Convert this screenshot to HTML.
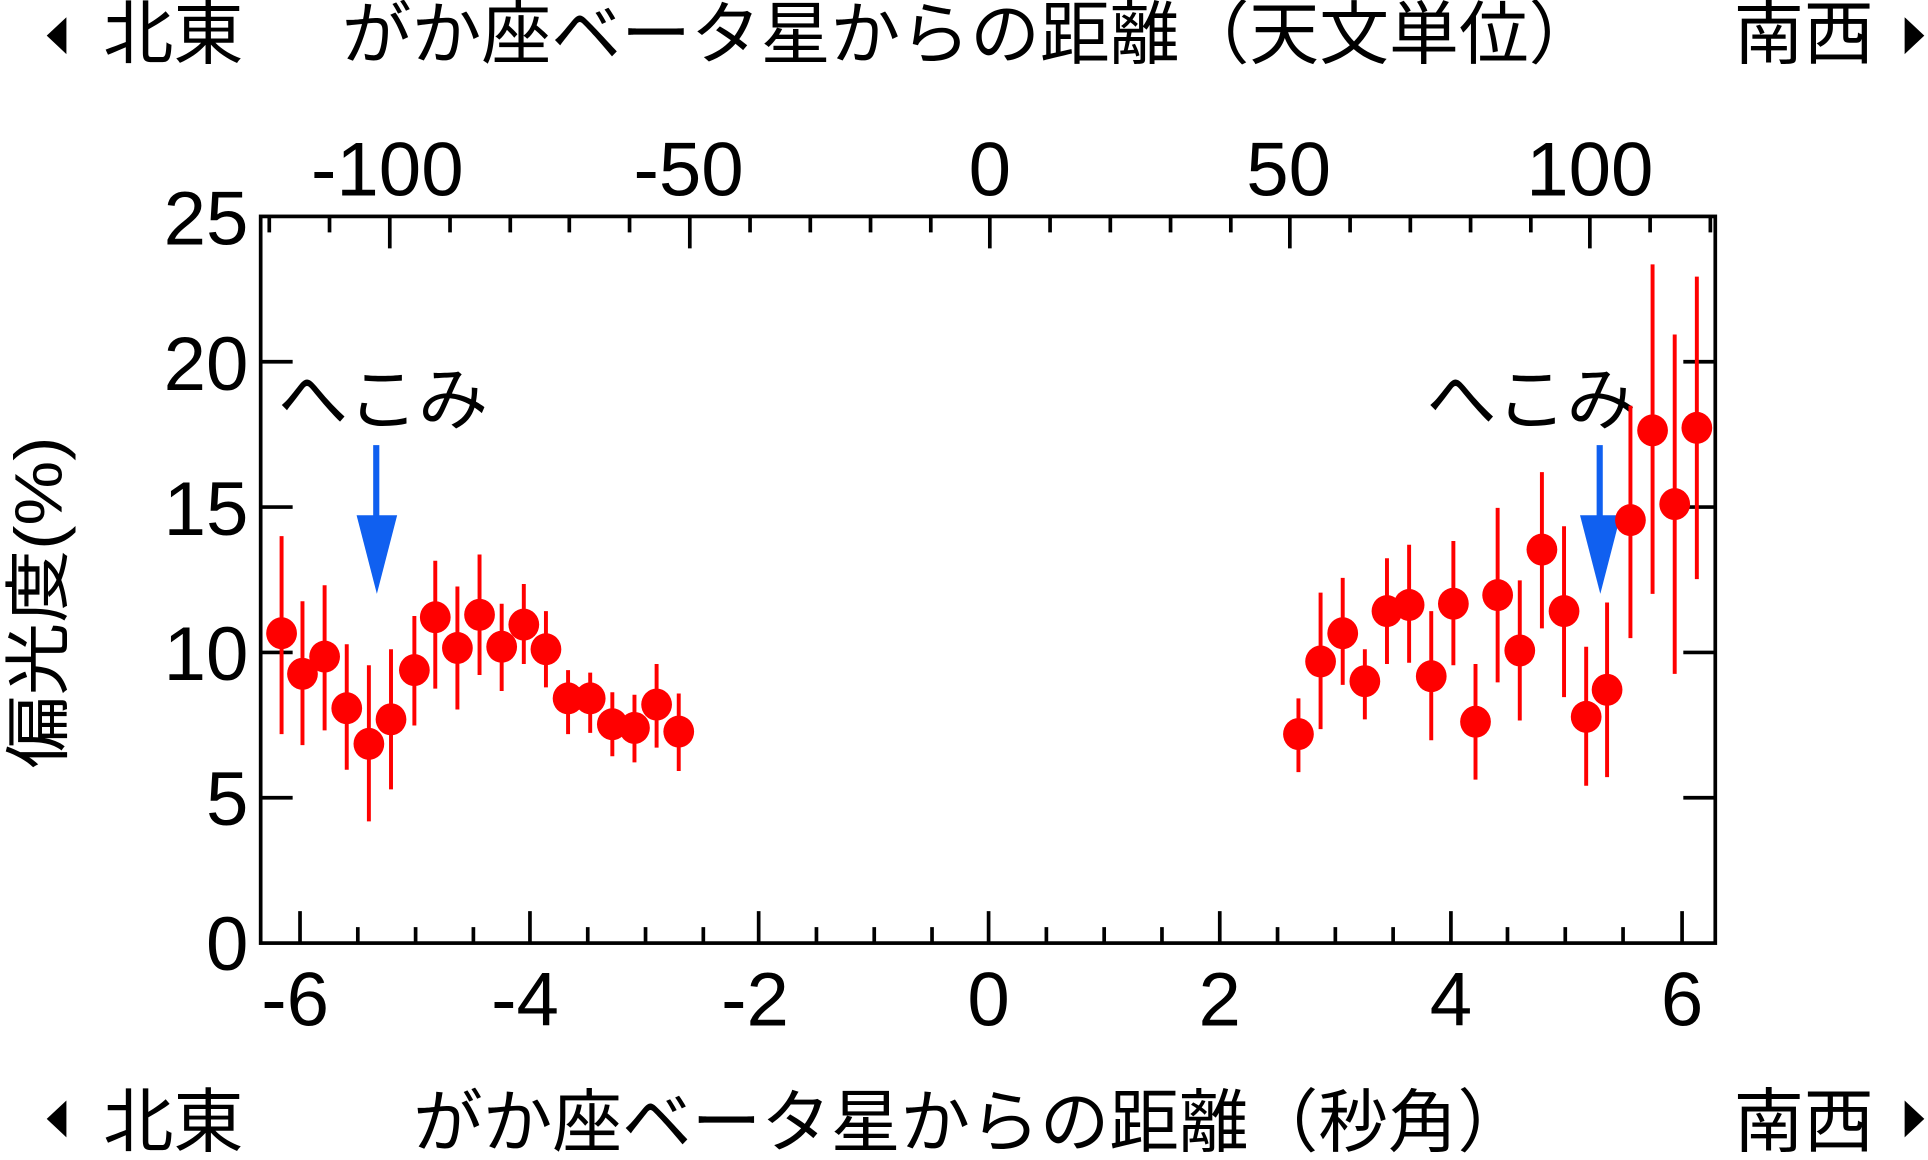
<!DOCTYPE html>
<html><head><meta charset="utf-8"><style>
html,body{margin:0;padding:0;background:#fff;}
svg{display:block;}
text{font-family:"Liberation Sans","Noto Sans CJK JP",sans-serif;fill:#000;}
</style></head><body>
<svg width="1928" height="1160" viewBox="0 0 1568 943.4" preserveAspectRatio="none" xmlns="http://www.w3.org/2000/svg">
<rect width="1568" height="943.4" fill="#fff"/>
<!-- titles -->
<polygon points="38,29 54,14 54,44" fill="#000"/>
<text x="84" y="47" font-size="57" font-family="Noto Sans CJK JP, sans-serif">北東</text>
<text x="278" y="47" font-size="56" textLength="1022" lengthAdjust="spacingAndGlyphs" font-family="Noto Sans CJK JP, sans-serif">がか座ベータ星からの距離（天文単位）</text>
<text x="1410" y="47" font-size="57" font-family="Noto Sans CJK JP, sans-serif">南西</text>
<polygon points="1565,29 1549,14 1549,44" fill="#000"/>

<polygon points="38,910 54,895 54,925" fill="#000"/>
<text x="84" y="932" font-size="57" font-family="Noto Sans CJK JP, sans-serif">北東</text>
<text x="336" y="932" font-size="56" textLength="906" lengthAdjust="spacingAndGlyphs" font-family="Noto Sans CJK JP, sans-serif">がか座ベータ星からの距離（秒角）</text>
<text x="1410" y="932" font-size="57" font-family="Noto Sans CJK JP, sans-serif">南西</text>
<polygon points="1565,910 1549,895 1549,925" fill="#000"/>

<!-- y label -->
<text transform="translate(50,490) rotate(-90)" text-anchor="middle" font-size="54" textLength="270" lengthAdjust="spacingAndGlyphs" font-family="Noto Sans CJK JP, sans-serif">偏光度(%)</text>

<!-- axes box -->
<rect x="212" y="176" width="1183" height="591" fill="none" stroke="#000" stroke-width="3"/>
<g stroke="#000" stroke-width="3">
<line x1="212" y1="648.8" x2="238" y2="648.8"/><line x1="1395" y1="648.8" x2="1369" y2="648.8"/>
<line x1="212" y1="530.6" x2="238" y2="530.6"/><line x1="1395" y1="530.6" x2="1369" y2="530.6"/>
<line x1="212" y1="412.4" x2="238" y2="412.4"/><line x1="1395" y1="412.4" x2="1369" y2="412.4"/>
<line x1="212" y1="294.2" x2="238" y2="294.2"/><line x1="1395" y1="294.2" x2="1369" y2="294.2"/>
<line x1="244" y1="767" x2="244" y2="741"/><line x1="291" y1="767" x2="291" y2="754"/>
<line x1="338" y1="767" x2="338" y2="754"/><line x1="385" y1="767" x2="385" y2="754"/>
<line x1="431" y1="767" x2="431" y2="741"/><line x1="478" y1="767" x2="478" y2="754"/>
<line x1="525" y1="767" x2="525" y2="754"/><line x1="572" y1="767" x2="572" y2="754"/>
<line x1="617" y1="767" x2="617" y2="741"/><line x1="664" y1="767" x2="664" y2="754"/>
<line x1="711" y1="767" x2="711" y2="754"/><line x1="758" y1="767" x2="758" y2="754"/>
<line x1="804" y1="767" x2="804" y2="741"/><line x1="851" y1="767" x2="851" y2="754"/>
<line x1="898" y1="767" x2="898" y2="754"/><line x1="945" y1="767" x2="945" y2="754"/>
<line x1="992" y1="767" x2="992" y2="741"/><line x1="1039" y1="767" x2="1039" y2="754"/>
<line x1="1086" y1="767" x2="1086" y2="754"/><line x1="1133" y1="767" x2="1133" y2="754"/>
<line x1="1180" y1="767" x2="1180" y2="741"/><line x1="1226" y1="767" x2="1226" y2="754"/>
<line x1="1273" y1="767" x2="1273" y2="754"/><line x1="1320" y1="767" x2="1320" y2="754"/>
<line x1="1368" y1="767" x2="1368" y2="741"/>
<line x1="219" y1="176" x2="219" y2="189"/><line x1="268" y1="176" x2="268" y2="189"/>
<line x1="317" y1="176" x2="317" y2="202"/><line x1="366" y1="176" x2="366" y2="189"/>
<line x1="415" y1="176" x2="415" y2="189"/><line x1="463" y1="176" x2="463" y2="189"/>
<line x1="512" y1="176" x2="512" y2="189"/><line x1="561" y1="176" x2="561" y2="202"/>
<line x1="610" y1="176" x2="610" y2="189"/><line x1="659" y1="176" x2="659" y2="189"/>
<line x1="708" y1="176" x2="708" y2="189"/><line x1="757" y1="176" x2="757" y2="189"/>
<line x1="805" y1="176" x2="805" y2="202"/><line x1="854" y1="176" x2="854" y2="189"/>
<line x1="903" y1="176" x2="903" y2="189"/><line x1="952" y1="176" x2="952" y2="189"/>
<line x1="1001" y1="176" x2="1001" y2="189"/><line x1="1049" y1="176" x2="1049" y2="202"/>
<line x1="1098" y1="176" x2="1098" y2="189"/><line x1="1147" y1="176" x2="1147" y2="189"/>
<line x1="1196" y1="176" x2="1196" y2="189"/><line x1="1245" y1="176" x2="1245" y2="189"/>
<line x1="1293" y1="176" x2="1293" y2="202"/><line x1="1342" y1="176" x2="1342" y2="189"/>
<line x1="1391" y1="176" x2="1391" y2="189"/>
</g>
<g font-size="62" text-anchor="end">
<text x="202" y="789">0</text><text x="202" y="671">5</text>
<text x="202" y="553">10</text><text x="202" y="435">15</text>
<text x="202" y="317">20</text><text x="202" y="199">25</text>
</g>
<g font-size="62" text-anchor="middle">
<text x="240" y="834">-6</text><text x="427" y="834">-4</text><text x="614" y="834">-2</text>
<text x="804" y="834">0</text><text x="992" y="834">2</text><text x="1180" y="834">4</text><text x="1368" y="834">6</text>
<text x="315" y="159">-100</text><text x="560" y="159">-50</text><text x="805" y="159">0</text>
<text x="1048" y="159">50</text><text x="1293" y="159">100</text>
</g>
<text x="226" y="345" font-size="57" font-family="Noto Sans CJK JP, sans-serif">へこみ</text>
<text x="1160" y="345" font-size="57" font-family="Noto Sans CJK JP, sans-serif">へこみ</text>
<g fill="#1060f0">
<rect x="303.5" y="362" width="5" height="60"/><polygon points="290,419 323,419 306.5,483"/>
<rect x="1298.5" y="362" width="5" height="60"/><polygon points="1285,419 1318,419 1301.5,483"/>
</g>
<g stroke="#f00" stroke-width="3.2">
<line x1="229" y1="436" x2="229" y2="597"/><line x1="246" y1="489" x2="246" y2="606"/>
<line x1="264" y1="476" x2="264" y2="594"/><line x1="282" y1="524" x2="282" y2="626"/>
<line x1="300" y1="541" x2="300" y2="668"/><line x1="318" y1="528" x2="318" y2="642"/>
<line x1="337" y1="501" x2="337" y2="590"/><line x1="354" y1="456" x2="354" y2="560"/>
<line x1="372" y1="477" x2="372" y2="577"/><line x1="390" y1="451" x2="390" y2="549"/>
<line x1="408" y1="491" x2="408" y2="562"/><line x1="426" y1="475" x2="426" y2="540"/>
<line x1="444" y1="497" x2="444" y2="559"/><line x1="462" y1="545" x2="462" y2="597"/>
<line x1="480" y1="547" x2="480" y2="596"/><line x1="498" y1="563" x2="498" y2="615"/>
<line x1="516" y1="565" x2="516" y2="620"/><line x1="534" y1="540" x2="534" y2="608"/>
<line x1="552" y1="564" x2="552" y2="627"/>
<line x1="1056" y1="568" x2="1056" y2="628"/><line x1="1074" y1="482" x2="1074" y2="593"/>
<line x1="1092" y1="470" x2="1092" y2="557"/><line x1="1110" y1="528" x2="1110" y2="585"/>
<line x1="1128" y1="454" x2="1128" y2="540"/><line x1="1146" y1="443" x2="1146" y2="539"/>
<line x1="1164" y1="497" x2="1164" y2="602"/><line x1="1182" y1="440" x2="1182" y2="541"/>
<line x1="1200" y1="540" x2="1200" y2="634"/><line x1="1218" y1="413" x2="1218" y2="555"/>
<line x1="1236" y1="472" x2="1236" y2="586"/><line x1="1254" y1="384" x2="1254" y2="511"/>
<line x1="1272" y1="428" x2="1272" y2="567"/><line x1="1290" y1="526" x2="1290" y2="639"/>
<line x1="1307" y1="490" x2="1307" y2="632"/><line x1="1326" y1="330" x2="1326" y2="519"/>
<line x1="1344" y1="215" x2="1344" y2="483"/><line x1="1362" y1="272" x2="1362" y2="548"/>
<line x1="1380" y1="225" x2="1380" y2="471"/>
</g>
<g fill="#f00">
<ellipse cx="229" cy="515" rx="12.5" ry="13"/><ellipse cx="246" cy="548" rx="12.5" ry="13"/>
<ellipse cx="264" cy="534" rx="12.5" ry="13"/><ellipse cx="282" cy="576" rx="12.5" ry="13"/>
<ellipse cx="300" cy="605" rx="12.5" ry="13"/><ellipse cx="318" cy="585" rx="12.5" ry="13"/>
<ellipse cx="337" cy="545" rx="12.5" ry="13"/><ellipse cx="354" cy="502" rx="12.5" ry="13"/>
<ellipse cx="372" cy="527" rx="12.5" ry="13"/><ellipse cx="390" cy="500" rx="12.5" ry="13"/>
<ellipse cx="408" cy="526" rx="12.5" ry="13"/><ellipse cx="426" cy="508" rx="12.5" ry="13"/>
<ellipse cx="444" cy="528" rx="12.5" ry="13"/><ellipse cx="462" cy="568" rx="12.5" ry="13"/>
<ellipse cx="480" cy="568" rx="12.5" ry="13"/><ellipse cx="498" cy="589" rx="12.5" ry="13"/>
<ellipse cx="516" cy="592" rx="12.5" ry="13"/><ellipse cx="534" cy="573" rx="12.5" ry="13"/>
<ellipse cx="552" cy="595" rx="12.5" ry="13"/>
<ellipse cx="1056" cy="597" rx="12.5" ry="13"/><ellipse cx="1074" cy="538" rx="12.5" ry="13"/>
<ellipse cx="1092" cy="515" rx="12.5" ry="13"/><ellipse cx="1110" cy="554" rx="12.5" ry="13"/>
<ellipse cx="1128" cy="497" rx="12.5" ry="13"/><ellipse cx="1146" cy="492" rx="12.5" ry="13"/>
<ellipse cx="1164" cy="550" rx="12.5" ry="13"/><ellipse cx="1182" cy="491" rx="12.5" ry="13"/>
<ellipse cx="1200" cy="587" rx="12.5" ry="13"/><ellipse cx="1218" cy="484" rx="12.5" ry="13"/>
<ellipse cx="1236" cy="529" rx="12.5" ry="13"/><ellipse cx="1254" cy="447" rx="12.5" ry="13"/>
<ellipse cx="1272" cy="497" rx="12.5" ry="13"/><ellipse cx="1290" cy="583" rx="12.5" ry="13"/>
<ellipse cx="1307" cy="561" rx="12.5" ry="13"/><ellipse cx="1326" cy="423" rx="12.5" ry="13"/>
<ellipse cx="1344" cy="350" rx="12.5" ry="13"/><ellipse cx="1362" cy="410" rx="12.5" ry="13"/>
<ellipse cx="1380" cy="348" rx="12.5" ry="13"/>
</g>
</svg>
</body></html>
